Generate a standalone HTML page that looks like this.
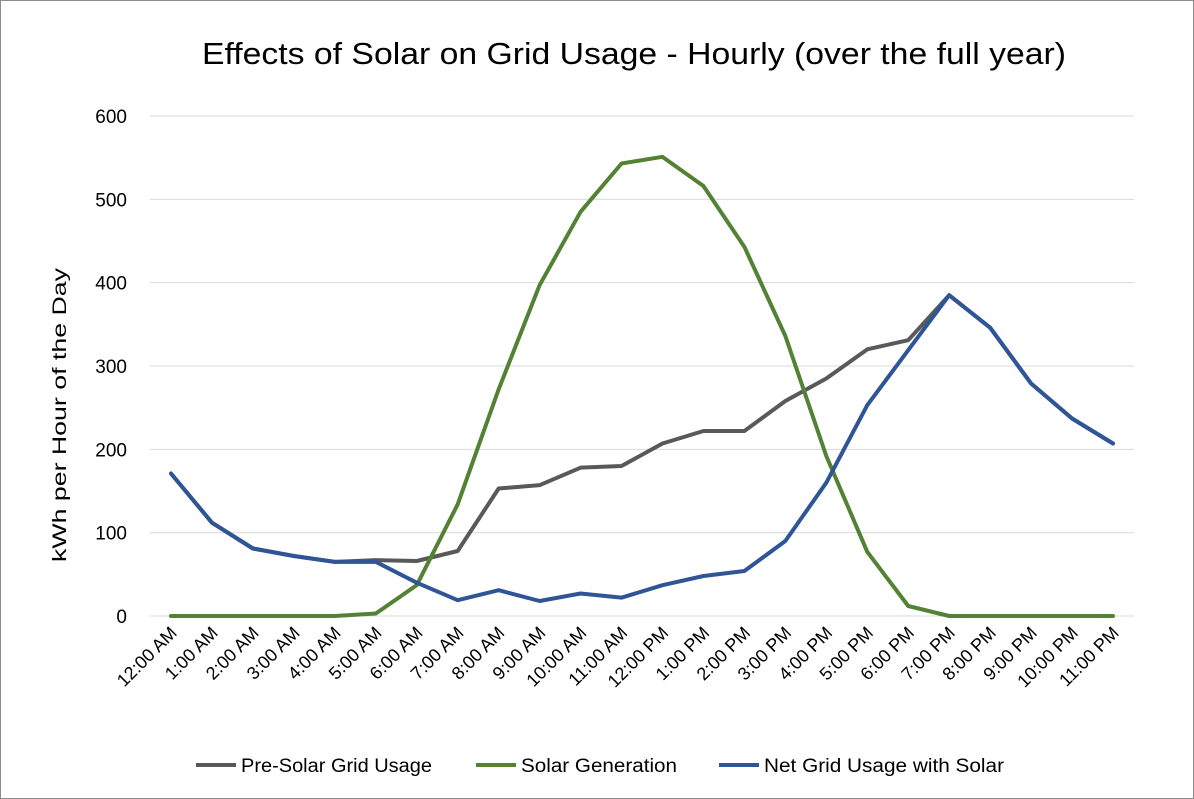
<!DOCTYPE html>
<html><head><meta charset="utf-8">
<style>
body{margin:0;background:#fff;}
svg{display:block;font-family:"Liberation Sans",sans-serif;}
</style></head>
<body>
<svg id="chart" width="1194" height="799" viewBox="0 0 1194 799">
<rect x="0.5" y="0.5" width="1193" height="798" fill="#fff" stroke="#8c8c8c"/>
<text x="202" y="64" textLength="864" lengthAdjust="spacingAndGlyphs" font-size="31" fill="#000">Effects of Solar on Grid Usage - Hourly (over the full year)</text>
<text transform="translate(66,562) rotate(-90)" textLength="294" lengthAdjust="spacingAndGlyphs" font-size="19" fill="#000">kWh per Hour of the Day</text>
<g id="grid"></g><g id="yt"></g><g id="xt"></g><g id="lines"></g>
<g>
<g><line x1="196" y1="765" x2="236" y2="765" stroke="#595959" stroke-width="4"/><text x="241" y="772" font-size="19" textLength="191" lengthAdjust="spacingAndGlyphs">Pre-Solar Grid Usage</text></g>
<g><line x1="476" y1="765" x2="516" y2="765" stroke="#548235" stroke-width="4"/><text x="521" y="772" font-size="19" textLength="156" lengthAdjust="spacingAndGlyphs">Solar Generation</text></g>
<g><line x1="719" y1="765" x2="759" y2="765" stroke="#2f5597" stroke-width="4"/><text x="764" y="772" font-size="19" textLength="240" lengthAdjust="spacingAndGlyphs">Net Grid Usage with Solar</text></g>
</g>
</svg>
<script>
const categories=["12:00 AM","1:00 AM","2:00 AM","3:00 AM","4:00 AM","5:00 AM","6:00 AM","7:00 AM","8:00 AM","9:00 AM","10:00 AM","11:00 AM","12:00 PM","1:00 PM","2:00 PM","3:00 PM","4:00 PM","5:00 PM","6:00 PM","7:00 PM","8:00 PM","9:00 PM","10:00 PM","11:00 PM"];
const preSolar=[171,112,81,72,65,67,66,78,153,157,178,180,207,222,222,258,285,320,331,385,346,279,237,207];
const solarGen=[0,0,0,0,0,3,37,134,272,397,485,543,551,516,443,336,192,77,12,0,0,0,0,0];
const netGrid=[171,112,81,72,65,65,40,19,31,18,27,22,37,48,54,90,160,253,319,385,346,279,237,207];
const yTicks=[0,100,200,300,400,500,600];
const NS="http://www.w3.org/2000/svg";
const x=i=>171+i*(1113-171)/23;
const y=v=>616-v*500/600;
function mk(tag,attrs,parent){const e=document.createElementNS(NS,tag);for(const k in attrs)e.setAttribute(k,attrs[k]);parent.appendChild(e);return e;}
const grid=document.getElementById('grid'),yt=document.getElementById('yt'),xt=document.getElementById('xt'),lines=document.getElementById('lines');
yTicks.forEach(t=>{
 const l=mk('line',{x1:150,x2:1134,y1:y(t),y2:y(t),stroke:'#d9d9d9','stroke-width':1},grid);
 
 
 const tx=mk('text',{x:127,y:y(t)+7,'text-anchor':'end','font-size':19},yt);
 tx.textContent=t;
 
 
});
categories.forEach((c,i)=>{
 const tx=mk('text',{transform:`translate(${x(i)+7},${634}) rotate(-45)`,'text-anchor':'end','font-size':18},xt);
 tx.textContent=c;
 
 
});
[[preSolar,'#595959','pre-solar-line'],[solarGen,'#548235','solar-generation-line'],[netGrid,'#2f5597','net-grid-line']].forEach(([d,col,n])=>{
 const p=mk('polyline',{points:d.map((v,i)=>x(i)+','+y(v)).join(' '),fill:'none',stroke:col,'stroke-width':4,'stroke-linejoin':'round','stroke-linecap':'round'},lines);
 
 
});
</script>
</body></html>
